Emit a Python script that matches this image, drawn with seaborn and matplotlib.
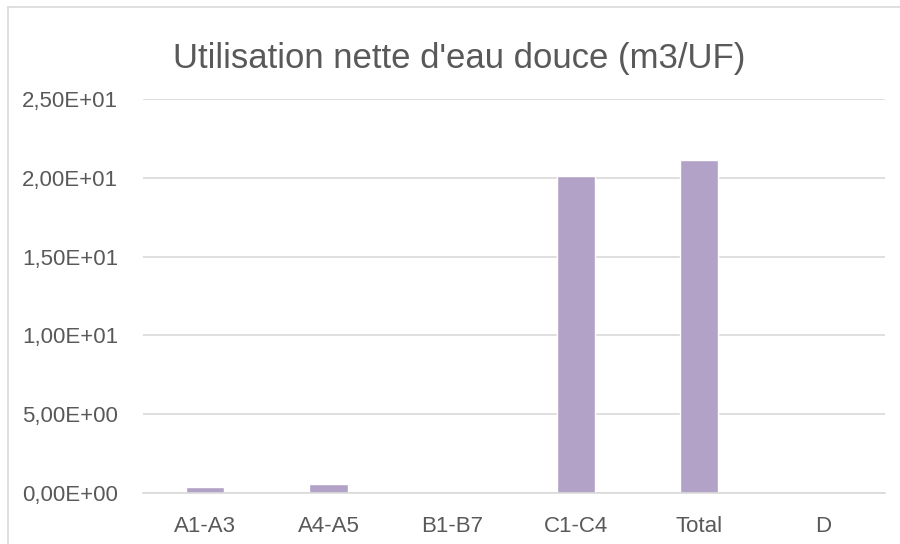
import matplotlib
matplotlib.use("Agg")
import matplotlib.pyplot as plt
import seaborn as sns
import pandas as pd
from matplotlib.ticker import FuncFormatter
from matplotlib.lines import Line2D

categories = ["A1-A3", "A4-A5", "B1-B7", "C1-C4", "Total", "D"]
values = [0.38, 0.57, 0.0, 20.1, 21.15, 0.0]
title = "Utilisation nette d'eau douce (m3/UF)"

sns.set_theme(style="white")
plt.rcParams['font.family'] = ['Liberation Sans', 'DejaVu Sans']

df = pd.DataFrame({"cat": categories, "val": values})

fig = plt.figure(figsize=(9, 5.44), dpi=100)
ax = fig.add_axes([0.159, 0.094, 0.824, 0.724])
sns.barplot(data=df, x="cat", y="val", color="#B3A2C7", saturation=1, width=0.31, ax=ax)

ax.set_ylim(0, 25)
ax.set_yticks([0, 5, 10, 15, 20, 25])
def fmt(v, pos):
    s = "{:.2E}".format(v)
    return s.replace(".", ",")
ax.yaxis.set_major_formatter(FuncFormatter(fmt))
ax.grid(axis="y", color="#D9D9D9", linewidth=1.2)
ax.set_axisbelow(True)
for sp in ["top", "right", "left"]:
    ax.spines[sp].set_visible(False)
ax.spines["bottom"].set_color("#D9D9D9")
ax.spines["bottom"].set_linewidth(1.2)
ax.set_xlabel("")
ax.set_ylabel("")
ax.tick_params(axis="both", length=0, colors="#595959", labelsize=16)
ax.tick_params(axis="y", pad=18)
ax.tick_params(axis="x", pad=17)

fig.text(0.51, 0.893, title, ha="center", va="center", fontsize=25, color="#595959")

fig.add_artist(Line2D([8/900, 1.0], [1 - 7/544, 1 - 7/544], color="#D9D9D9", linewidth=1.2, transform=fig.transFigure))
fig.add_artist(Line2D([8/900, 8/900], [0, 1 - 7/544], color="#D9D9D9", linewidth=1.2, transform=fig.transFigure))

fig.savefig("out.png", dpi=100)
